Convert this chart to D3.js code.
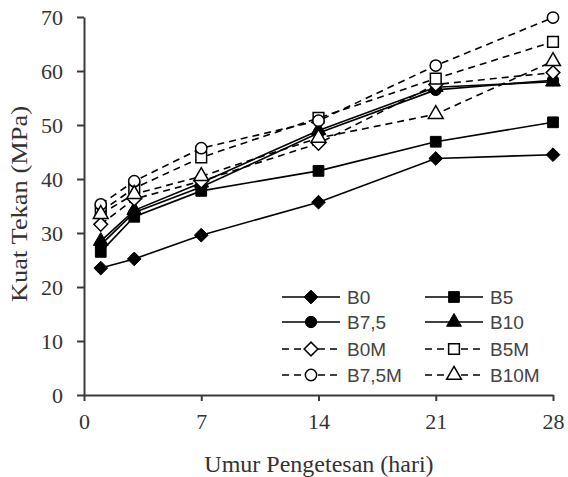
<!DOCTYPE html>
<html>
<head>
<meta charset="utf-8">
<script src="https://cdn.jsdelivr.net/npm/d3@7"></script>
<style>
  body { margin: 0; background: #fff; }
  svg { display: block; }
</style>
</head>
<body>
<div id="chart"></div>
<script>
const days = [1, 3, 7, 14, 21, 28];
const seriesNames = ["B0", "B5", "B7,5", "B10", "B0M", "B5M", "B7,5M", "B10M"];
const b0 = [23.5, 25.2, 29.6, 35.7, 43.8, 44.5];
const b5 = [26.5, 33.0, 37.8, 41.5, 46.9, 50.5];
const b75 = [27.8, 33.8, 38.5, 48.5, 56.5, 58.3];
const b10 = [28.5, 34.2, 39.3, 49.0, 57.0, 58.0];
const b0m = [31.6, 36.3, 39.6, 46.6, 57.5, 59.7];
const b5m = [34.0, 38.3, 44.0, 51.3, 58.6, 65.4];
const b75m = [35.3, 39.6, 45.7, 50.8, 61.0, 69.9];
const b10m = [33.5, 37.2, 40.5, 47.6, 52.0, 61.8];
const xTicks = [0, 7, 14, 21, 28];
const yTicks = [0, 10, 20, 30, 40, 50, 60, 70];

const seriesValues = [b0, b5, b75, b10, b0m, b5m, b75m, b10m];
const shapes = ["diamond", "square", "circle", "triangle", "diamond", "square", "circle", "triangle"];
const filled = [true, true, true, true, false, false, false, false];

const width = 568, height = 477;
const svg = d3.select("#chart").append("svg")
    .attr("width", width)
    .attr("height", height);

const x = d3.scaleLinear().domain([0, 28]).range([84, 553]);
const y = d3.scaleLinear().domain([0, 70]).range([395, 17]);

// axes
const xAxis = svg.append("g")
    .attr("transform", "translate(0," + y(0) + ")")
    .call(d3.axisBottom(x).tickValues(xTicks).tickSize(6).tickSizeOuter(0).tickPadding(10));
const yAxis = svg.append("g")
    .attr("transform", "translate(" + x(0) + ",0)")
    .call(d3.axisLeft(y).tickValues(yTicks).tickSize(7).tickSizeOuter(0).tickPadding(14));

[xAxis, yAxis].forEach(g => {
    g.select(".domain").attr("stroke", "#3a3a3a").attr("stroke-width", 2);
    g.selectAll(".tick line").attr("stroke", "#3a3a3a").attr("stroke-width", 2);
    g.selectAll("text")
        .attr("fill", "#333")
        .style("font-family", "'Liberation Serif', 'Times New Roman', serif")
        .style("font-size", "22px");
});
xAxis.selectAll("text").attr("dy", "0.8em");

svg.append("text")
    .attr("x", 319)
    .attr("y", 472)
    .attr("text-anchor", "middle")
    .attr("fill", "#333")
    .style("font-family", "'Liberation Serif', 'Times New Roman', serif")
    .style("font-size", "24px")
    .text("Umur Pengetesan (hari)");

svg.append("text")
    .attr("transform", "translate(27,204) rotate(-90)")
    .attr("text-anchor", "middle")
    .attr("fill", "#333")
    .attr("textLength", 196)
    .attr("lengthAdjust", "spacingAndGlyphs")
    .style("font-family", "'Liberation Serif', 'Times New Roman', serif")
    .style("font-size", "23px")
    .text("Kuat Tekan (MPa)");

function symbolFor(shape) {
    if (shape === "diamond") return d3.symbol().type(d3.symbolDiamond2 || d3.symbolDiamond).size(120);
    if (shape === "square") return d3.symbol().type(d3.symbolSquare).size(115);
    if (shape === "circle") return d3.symbol().type(d3.symbolCircle).size(100);
    return d3.symbol().type(d3.symbolTriangle).size(95);
}

function drawMarker(g, shape, isFilled, cx, cy) {
    g.append("path")
        .attr("d", symbolFor(shape)())
        .attr("transform", "translate(" + cx + "," + cy + ")")
        .attr("fill", isFilled ? "#000" : "#fff")
        .attr("stroke", "#000")
        .attr("stroke-width", isFilled ? 1 : 1.5);
}

const line = d3.line()
    .x((d, i) => x(days[i]))
    .y(d => y(d));

const plot = svg.append("g");
seriesValues.forEach((vals, s) => {
    const g = plot.append("g");
    g.append("path")
        .datum(vals)
        .attr("d", line)
        .attr("fill", "none")
        .attr("stroke", "#000")
        .attr("stroke-width", 1.6)
        .attr("stroke-dasharray", filled[s] ? null : "7,5");
    vals.forEach((v, i) => drawMarker(g, shapes[s], filled[s], x(days[i]), y(v)));
});

// legend
const legend = svg.append("g");
const legendRows = [297, 322, 349, 375];
const legendCols = [282, 425];
seriesNames.forEach((name, s) => {
    const col = s % 2;
    const row = Math.floor(s / 2);
    const lx = legendCols[col];
    const ly = legendRows[row];
    const g = legend.append("g");
    g.append("line")
        .attr("x1", lx).attr("x2", lx + 58)
        .attr("y1", ly).attr("y2", ly)
        .attr("stroke", "#000")
        .attr("stroke-width", 1.6)
        .attr("stroke-dasharray", filled[s] ? null : "7,5");
    drawMarker(g, shapes[s], filled[s], lx + 29, ly);
    g.append("text")
        .attr("x", lx + 65)
        .attr("y", ly)
        .attr("dy", "0.35em")
        .attr("fill", "#444")
        .style("font-family", "'Liberation Sans', Arial, sans-serif")
        .style("font-size", "19px")
        .text(name);
});
</script>
</body>
</html>
